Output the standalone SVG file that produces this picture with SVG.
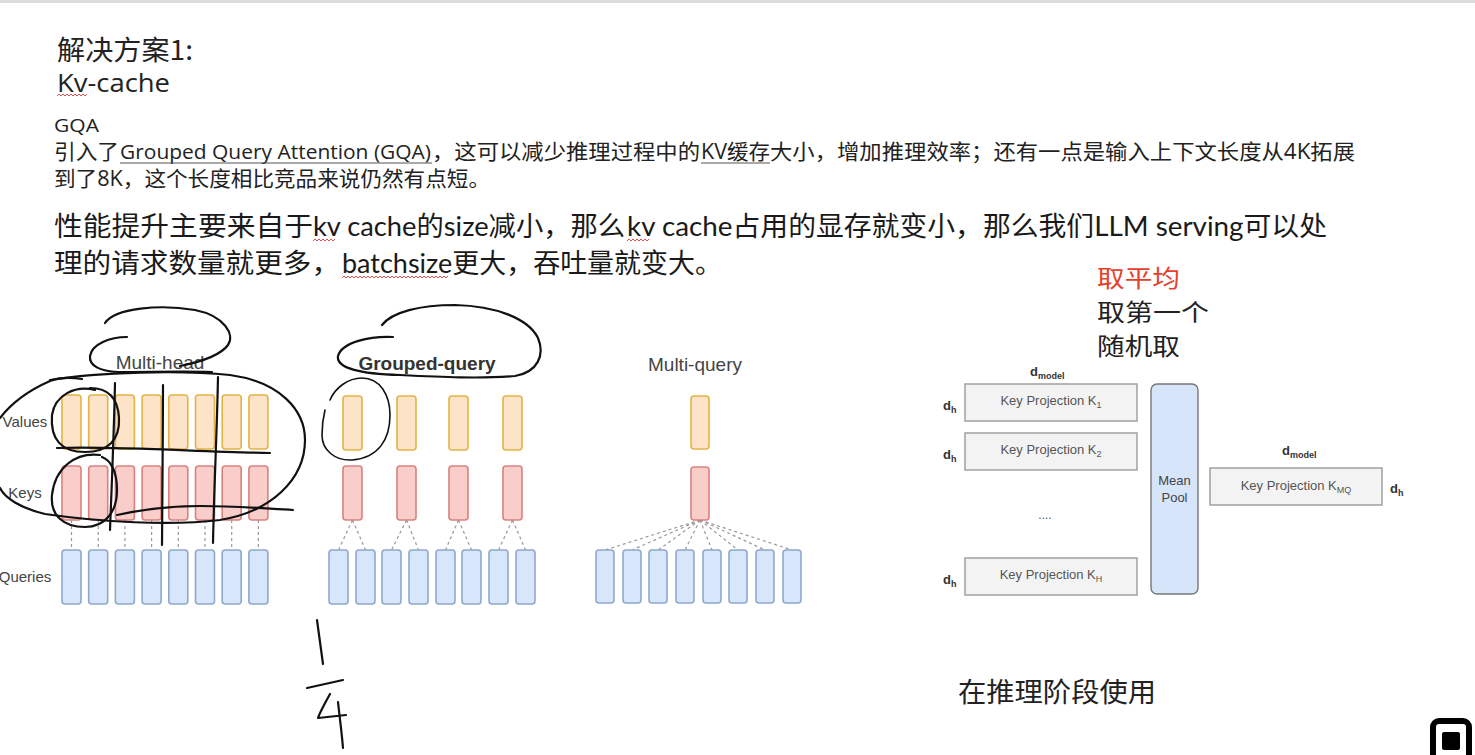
<svg xmlns="http://www.w3.org/2000/svg" width="1475" height="755" viewBox="0 0 1475 755">
<style>
.cjk{font-family:"Noto Sans CJK SC",sans-serif;fill:#222}
.mix{font-family:"Open Sans","Noto Sans CJK SC",sans-serif;fill:#222}
.big{font-family:Lato,"Noto Sans CJK SC",sans-serif;fill:#1a1a1a;font-size:27px}
.lbl{font-family:"Liberation Sans",Arial,sans-serif;fill:#444}
.v{fill:#fde3c7;stroke:#e2b445;stroke-width:1.6}
.k{fill:#f8cdca;stroke:#d9827d;stroke-width:1.6}
.q{fill:#d8e6fb;stroke:#8ea8cc;stroke-width:1.6}
.dash{stroke:#999;stroke-width:1.2;stroke-dasharray:3 3;fill:none}
.box{fill:#f3f3f3;stroke:#9a9a9a;stroke-width:1.4}
.kp{font-family:"Liberation Sans",Arial,sans-serif;font-size:13px;fill:#555;text-anchor:middle}
.dim{font-family:"Liberation Sans",Arial,sans-serif;font-size:13px;font-weight:bold;fill:#333}
.sub{font-size:9px}
.hw{fill:none;stroke:#111;stroke-width:2.2;stroke-linecap:round;stroke-linejoin:round}
.wavy{fill:none;stroke:#e05050;stroke-width:1}
.ul{stroke:#555;stroke-width:1}
.opt{font-family:"Noto Sans CJK SC",sans-serif;font-size:23.5px;fill:#222}
</style>
<rect x="0" y="0" width="1475" height="3" fill="#dcdcdc"/>

<g id="title">
<text class="cjk" x="57" y="60" font-size="27" textLength="136" lengthAdjust="spacingAndGlyphs">解决方案1:</text>
<text class="mix" x="57" y="92" font-size="25" textLength="113" lengthAdjust="spacingAndGlyphs">Kv-cache</text>
<path class="wavy" d="M57,96 l2,-2 l2,2 l2,-2 l2,2 l2,-2 l2,2 l2,-2 l2,2 l2,-2 l2,2 l2,-2 l2,2 l2,-2 l2,2 l2,-2"/>
</g>

<g id="para-gqa">
<text class="mix" x="54" y="132" font-size="18" textLength="45" lengthAdjust="spacingAndGlyphs">GQA</text>
<text class="mix" x="54" y="159" font-size="21" textLength="65" lengthAdjust="spacingAndGlyphs">引入了</text>
<text class="mix" x="120" y="159" font-size="20" textLength="311" lengthAdjust="spacingAndGlyphs">Grouped Query Attention (GQA)</text>
<line class="ul" x1="120" y1="163" x2="432" y2="163"/>
<text class="mix" x="432" y="159" font-size="21" textLength="268" lengthAdjust="spacingAndGlyphs">，这可以减少推理过程中的</text>
<text class="mix" x="701" y="159" font-size="21" textLength="69" lengthAdjust="spacingAndGlyphs">KV缓存</text>
<line class="ul" x1="701" y1="163" x2="770" y2="163"/>
<text class="mix" x="770" y="159" font-size="21" textLength="585" lengthAdjust="spacingAndGlyphs">大小，增加推理效率；还有一点是输入上下文长度从4K拓展</text>
<text class="mix" x="54" y="186" font-size="21" textLength="436" lengthAdjust="spacingAndGlyphs">到了8K，这个长度相比竞品来说仍然有点短。</text>
</g>

<g id="para-perf">
<text class="big" x="54" y="236" textLength="259" lengthAdjust="spacingAndGlyphs">性能提升主要来自于</text>
<text class="big" x="313" y="236" textLength="312" lengthAdjust="spacingAndGlyphs">kv cache的size减小，那么</text>
<text class="big" x="627" y="236" textLength="700" lengthAdjust="spacingAndGlyphs">kv cache占用的显存就变小，那么我们LLM serving可以处</text>
<text class="big" x="54" y="273" textLength="286" lengthAdjust="spacingAndGlyphs">理的请求数量就更多，</text>
<text class="big" x="342" y="273" textLength="380" lengthAdjust="spacingAndGlyphs">batchsize更大，吞吐量就变大。</text>
<path class="wavy" d="M313,241 l2,-2 l2,2 l2,-2 l2,2 l2,-2 l2,2 l2,-2 l2,2 l2,-2 l2,2 l2,-2"/>
<path class="wavy" d="M627,241 l2,-2 l2,2 l2,-2 l2,2 l2,-2 l2,2 l2,-2 l2,2 l2,-2 l2,2 l2,-2"/>
<path class="wavy" d="M342,278 l2,-2 l2,2 l2,-2 l2,2 l2,-2 l2,2 l2,-2 l2,2 l2,-2 l2,2 l2,-2 l2,2 l2,-2 l2,2 l2,-2 l2,2 l2,-2 l2,2 l2,-2 l2,2 l2,-2 l2,2 l2,-2 l2,2 l2,-2 l2,2 l2,-2 l2,2 l2,-2 l2,2 l2,-2 l2,2 l2,-2 l2,2 l2,-2 l2,2 l2,-2 l2,2 l2,-2 l2,2 l2,-2 l2,2 l2,-2 l2,2 l2,-2 l2,2 l2,-2 l2,2 l2,-2 l2,2 l2,-2 l2,2 l2,-2"/>
</g>

<g id="options">
<text class="opt" x="1097" y="287" textLength="83" lengthAdjust="spacingAndGlyphs" style="fill:#e5402c">取平均</text>
<text class="opt" x="1097" y="321" textLength="112" lengthAdjust="spacingAndGlyphs">取第一个</text>
<text class="opt" x="1097" y="355" textLength="83" lengthAdjust="spacingAndGlyphs">随机取</text>
</g>

<g id="connectors">
<path class="dash" d="M71.5,520V550M98.2,520V550M124.9,520V550M151.6,520V550M178.3,520V550M205,520V550M231.7,520V550M258.4,520V550"/>
<path class="dash" d="M352.5,520L338.5,550M352.5,520L365.5,550M406.5,520L391.5,550M406.5,520L418.5,550M458.5,520L445.5,550M458.5,520L471.5,550M512.5,520L498.5,550M512.5,520L525.5,550"/>
<path class="dash" d="M700,520L605,550M700,520L632,550M700,520L658,550M700,520L685,550M700,520L712,550M700,520L738,550M700,520L765,550M700,520L792,550"/>
</g>

<g id="multi-head">
<text class="lbl" x="160" y="369" font-size="19" text-anchor="middle">Multi-head</text>
<text class="lbl" x="25" y="427" font-size="15" text-anchor="middle">Values</text>
<text class="lbl" x="25" y="498" font-size="15" text-anchor="middle">Keys</text>
<text class="lbl" x="25" y="582" font-size="15" text-anchor="middle">Queries</text>
<rect class="v" x="62" y="395" width="19" height="54" rx="3"/><rect class="v" x="88.7" y="395" width="19" height="54" rx="3"/><rect class="v" x="115.4" y="395" width="19" height="54" rx="3"/><rect class="v" x="142.1" y="395" width="19" height="54" rx="3"/><rect class="v" x="168.8" y="395" width="19" height="54" rx="3"/><rect class="v" x="195.5" y="395" width="19" height="54" rx="3"/><rect class="v" x="222.2" y="395" width="19" height="54" rx="3"/><rect class="v" x="248.9" y="395" width="19" height="54" rx="3"/>
<rect class="k" x="62" y="466" width="19" height="54" rx="3"/><rect class="k" x="88.7" y="466" width="19" height="54" rx="3"/><rect class="k" x="115.4" y="466" width="19" height="54" rx="3"/><rect class="k" x="142.1" y="466" width="19" height="54" rx="3"/><rect class="k" x="168.8" y="466" width="19" height="54" rx="3"/><rect class="k" x="195.5" y="466" width="19" height="54" rx="3"/><rect class="k" x="222.2" y="466" width="19" height="54" rx="3"/><rect class="k" x="248.9" y="466" width="19" height="54" rx="3"/>
<rect class="q" x="62" y="550" width="19" height="54" rx="3"/><rect class="q" x="88.7" y="550" width="19" height="54" rx="3"/><rect class="q" x="115.4" y="550" width="19" height="54" rx="3"/><rect class="q" x="142.1" y="550" width="19" height="54" rx="3"/><rect class="q" x="168.8" y="550" width="19" height="54" rx="3"/><rect class="q" x="195.5" y="550" width="19" height="54" rx="3"/><rect class="q" x="222.2" y="550" width="19" height="54" rx="3"/><rect class="q" x="248.9" y="550" width="19" height="54" rx="3"/>
</g>

<g id="grouped-query">
<text class="lbl" x="427" y="370" font-size="19" font-weight="bold" text-anchor="middle" style="fill:#333">Grouped-query</text>
<rect class="v" x="343" y="396" width="19" height="54" rx="3"/><rect class="v" x="397" y="396" width="19" height="54" rx="3"/><rect class="v" x="449" y="396" width="19" height="54" rx="3"/><rect class="v" x="503" y="396" width="19" height="54" rx="3"/>
<rect class="k" x="343" y="466" width="19" height="54" rx="3"/><rect class="k" x="397" y="466" width="19" height="54" rx="3"/><rect class="k" x="449" y="466" width="19" height="54" rx="3"/><rect class="k" x="503" y="466" width="19" height="54" rx="3"/>
<rect class="q" x="329" y="550" width="19" height="54" rx="3"/><rect class="q" x="356" y="550" width="19" height="54" rx="3"/><rect class="q" x="382" y="550" width="19" height="54" rx="3"/><rect class="q" x="409" y="550" width="19" height="54" rx="3"/><rect class="q" x="436" y="550" width="19" height="54" rx="3"/><rect class="q" x="462" y="550" width="19" height="54" rx="3"/><rect class="q" x="489" y="550" width="19" height="54" rx="3"/><rect class="q" x="516" y="550" width="19" height="54" rx="3"/>
</g>

<g id="multi-query">
<text class="lbl" x="695" y="371" font-size="19" text-anchor="middle">Multi-query</text>
<rect class="v" x="691" y="396" width="18" height="53" rx="3"/>
<rect class="k" x="691" y="467" width="18" height="53" rx="3"/>
<rect class="q" x="596" y="550" width="18" height="53" rx="3"/><rect class="q" x="623" y="550" width="18" height="53" rx="3"/><rect class="q" x="649" y="550" width="18" height="53" rx="3"/><rect class="q" x="676" y="550" width="18" height="53" rx="3"/><rect class="q" x="703" y="550" width="18" height="53" rx="3"/><rect class="q" x="729" y="550" width="18" height="53" rx="3"/><rect class="q" x="756" y="550" width="18" height="53" rx="3"/><rect class="q" x="783" y="550" width="18" height="53" rx="3"/>
</g>

<g id="key-projections">
<text class="dim" x="1030" y="376">d<tspan class="sub" dy="3">model</tspan></text>
<rect class="box" x="965" y="384" width="172" height="37"/>
<text class="kp" x="1051" y="405">Key Projection K<tspan class="sub" dy="3">1</tspan></text>
<text class="dim" x="943" y="410">d<tspan class="sub" dy="3">h</tspan></text>
<rect class="box" x="965" y="433" width="172" height="37"/>
<text class="kp" x="1051" y="454">Key Projection K<tspan class="sub" dy="3">2</tspan></text>
<text class="dim" x="943" y="459">d<tspan class="sub" dy="3">h</tspan></text>
<text class="kp" x="1045" y="519" style="font-size:12px">....</text>
<rect class="box" x="965" y="558" width="172" height="37"/>
<text class="kp" x="1051" y="579">Key Projection K<tspan class="sub" dy="3">H</tspan></text>
<text class="dim" x="943" y="584">d<tspan class="sub" dy="3">h</tspan></text>
</g>

<g id="mean-pool">
<rect x="1151" y="384" width="47" height="210" rx="6" fill="#d6e5fa" stroke="#777" stroke-width="1.4"/>
<text class="kp" x="1174.5" y="485" style="fill:#444">Mean</text>
<text class="kp" x="1174.5" y="502" style="fill:#444">Pool</text>
</g>

<g id="key-projection-mq">
<text class="dim" x="1282" y="455">d<tspan class="sub" dy="3">model</tspan></text>
<rect class="box" x="1210" y="468" width="172" height="37"/>
<text class="kp" x="1296" y="490">Key Projection K<tspan class="sub" dy="3">MQ</tspan></text>
<text class="dim" x="1390" y="493">d<tspan class="sub" dy="3">h</tspan></text>
</g>

<g id="note">
<text class="cjk" x="958" y="702" font-size="27" textLength="198" lengthAdjust="spacingAndGlyphs">在推理阶段使用</text>
</g>

<g id="handwriting">
<path class="hw" d="M105,323 C115,308 160,304 195,310 C225,316 235,335 228,345 C220,356 200,362 180,366"/>
<path class="hw" d="M127,337 C110,337 92,344 90,356 C89,366 100,371 118,372 C150,372 185,371 212,372"/>
<path class="hw" d="M50,380 C100,372 180,370 230,375 C280,382 305,410 305,440 C305,480 270,512 220,520 C170,526 100,522 45,514 C20,508 5,498 0,488"/>
<path class="hw" d="M0,418 C10,405 25,392 50,381 C60,377 70,377 82,379"/>
<path class="hw" d="M57,448 C120,446 200,452 270,453"/>
<path class="hw" d="M117,515 C140,510 170,506 200,506 C240,506 270,509 293,510"/>
<path class="hw" d="M95,390 C75,385 55,395 52,415 C50,440 62,452 85,452 C108,452 120,440 119,418 C118,398 108,388 90,388"/>
<path class="hw" d="M100,455 C75,452 55,468 52,495 C50,515 63,527 85,527 C105,527 117,512 117,490 C117,470 110,460 102,457"/>
<path class="hw" d="M115,383 C114,430 112,480 110,530"/>
<path class="hw" d="M163,385 C163,440 162,500 162,545"/>
<path class="hw" d="M218,377 C217,430 214,490 213,543"/>
<path class="hw" d="M393,337 C370,336 342,342 338,356 C336,368 360,374 400,375 C440,377 480,379 515,376 C538,372 545,355 538,338 C528,318 495,306 455,305 C420,305 392,312 382,325"/>
<path class="hw" d="M330,400 C335,388 348,378 362,378 C380,378 390,395 390,415 C390,440 378,458 352,460 C335,461 322,450 322,435 C322,425 323,418 325,410" style="stroke-width:1.6"/>
<path class="hw" d="M317,620 C319,635 321,650 323,664"/>
<path class="hw" d="M307,688 L343,680"/>
<path class="hw" d="M330,694 C325,703 320,712 318,718 L346,715"/>
<path class="hw" d="M338,702 C340,720 342,735 343,748"/>
</g>

<g id="corner-icon">
<rect x="1433" y="721" width="36" height="40" rx="6" fill="none" stroke="#000" stroke-width="6"/>
<rect x="1442" y="732" width="18" height="18" rx="2" fill="#000"/>
</g>
</svg>
